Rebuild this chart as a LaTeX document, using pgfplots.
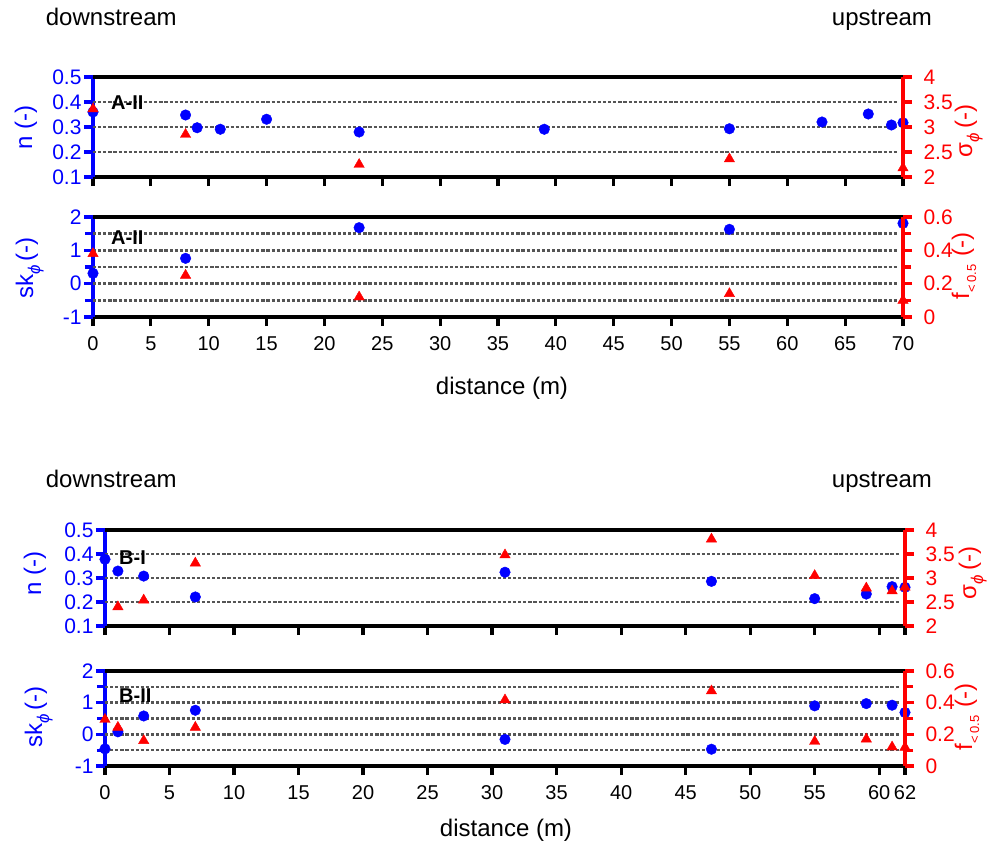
\documentclass[border=0pt]{standalone}
\usepackage{pgfplots}
\pgfplotsset{compat=1.18}
\usepackage{fontspec}
\setmainfont{Liberation Sans}

\definecolor{nblue}{RGB}{0,0,255}
\definecolor{sred}{RGB}{255,0,0}
\definecolor{gridgray}{RGB}{85,85,85}

\newcommand{\phis}{\textit{ϕ}}
\newcommand{\fs}[1]{\fontsize{#1}{#1}\selectfont}

\pgfplotsset{
  gridline/.style={forget plot, mark=none, color=gridgray, line width=2.4pt, dash pattern=on 3.2pt off 1.9pt},
  panel/.style={
    scale only axis, clip=false,
    tick align=outside,
    major tick length=9pt, minor tick length=8pt,
    /pgf/number format/assume math mode=true,
    xticklabel style={font=\fs{20}},
    yticklabel style={font=\fs{21}},
    every tick/.append style={line width=3.2pt},
    every major tick/.append style={line width=3.2pt},
    every minor tick/.append style={line width=3.2pt},
    every outer x axis line/.append style={line width=3.2pt},
    every outer y axis line/.append style={line width=3.2pt},
    axis line style={line width=3.2pt},
  },
  leftpanel/.style={panel,
    axis x line*=bottom, axis y line*=left,
    x axis line style={black, line width=3.2pt},
    y axis line style={nblue, line width=3.2pt},
    xtick style={black, line width=3.2pt},
    ytick style={nblue, line width=3.2pt},
    yticklabel style={nblue, xshift=1pt},
    xticklabel style={yshift=-7pt},
  },
  rightpanel/.style={panel,
    axis x line*=top, axis y line*=right,
    x axis line style={black, line width=3.2pt},
    y axis line style={sred, line width=3.2pt},
    xtick=\empty,
    ytick style={sred, line width=3.2pt},
    yticklabel style={sred, xshift=8pt},
  },
  circ/.style={only marks, mark=*, mark size=5.3pt, color=nblue, mark options={draw=nblue, fill=nblue, line width=0.4pt}},
  tri/.style={only marks, mark=triangle*, mark size=6pt, color=sred, mark options={draw=sred, fill=sred, line width=0.4pt}},
}

\begin{document}
\begin{tikzpicture}
\path[use as bounding box] (0,0) rectangle (988pt,-848pt);

% ---------------- site A: porosity and sorting ----------------
\begin{axis}[leftpanel, at={(93pt,-177pt)}, anchor=south west,
  width=810pt, height=100pt, xmin=0, xmax=70,
  xtick={0,5,...,70}, xticklabels={},
  ymin=0.1, ymax=0.5, ytick={0.1,0.2,0.3,0.4,0.5},
  yticklabels={0.1,0.2,0.3,0.4,0.5}]
\addplot[gridline] coordinates {(0,0.2) (69.5,0.2)};
\addplot[gridline] coordinates {(0,0.3) (69.5,0.3)};
\addplot[gridline] coordinates {(0,0.4) (69.5,0.4)};
\addplot[circ] coordinates {(0,0.36) (8,0.348) (9,0.297) (11,0.291) (15,0.331) (23,0.28)
  (39,0.291) (55,0.293) (63,0.32) (67,0.352) (69,0.308) (70,0.317)};
\end{axis}
\begin{axis}[rightpanel, at={(93pt,-177pt)}, anchor=south west,
  width=810pt, height=100pt, xmin=0, xmax=70,
  ymin=2, ymax=4, ytick={2,2.5,3,3.5,4}, yticklabels={2,2.5,3,3.5,4}]
\addplot[tri] coordinates {(0,3.36) (8,2.85) (23,2.25) (55,2.36) (70,2.18)};
\end{axis}

% ---------------- site A: skewness and fine fraction ----------------
\begin{axis}[leftpanel, at={(93pt,-317pt)}, anchor=south west,
  width=810pt, height=100pt, xmin=0, xmax=70,
  xtick={0,5,...,70},
  ymin=-1, ymax=2, ytick={-1,0,1,2}, yticklabels={-1,0,1,2},
  minor ytick={-0.5,0.5,1.5}]
\addplot[gridline] coordinates {(0,-0.5) (69.5,-0.5)};
\addplot[gridline] coordinates {(0,0) (69.5,0)};
\addplot[gridline] coordinates {(0,0.5) (69.5,0.5)};
\addplot[gridline] coordinates {(0,1) (69.5,1)};
\addplot[gridline] coordinates {(0,1.5) (69.5,1.5)};
\addplot[circ] coordinates {(0,0.31) (8,0.76) (23,1.68) (55,1.63) (70,1.81)};
\end{axis}
\begin{axis}[rightpanel, at={(93pt,-317pt)}, anchor=south west,
  width=810pt, height=100pt, xmin=0, xmax=70,
  ymin=0, ymax=0.6, ytick={0,0.2,0.4,0.6}, yticklabels={0,0.2,0.4,0.6},
  minor ytick={0.1,0.3,0.5}]
\addplot[tri] coordinates {(0,0.38) (8,0.25) (23,0.12) (55,0.14) (70,0.10)};
\end{axis}

% ---------------- site B: porosity and sorting ----------------
\begin{axis}[leftpanel, at={(105pt,-626pt)}, anchor=south west,
  width=800pt, height=96pt, xmin=0, xmax=62,
  xtick={0,5,...,60,62}, xticklabels={},
  ymin=0.1, ymax=0.5, ytick={0.1,0.2,0.3,0.4,0.5},
  yticklabels={0.1,0.2,0.3,0.4,0.5}]
\addplot[gridline] coordinates {(0,0.2) (61.6,0.2)};
\addplot[gridline] coordinates {(0,0.3) (61.6,0.3)};
\addplot[gridline] coordinates {(0,0.4) (61.6,0.4)};
\addplot[circ] coordinates {(0,0.378) (1,0.329) (3,0.308) (7,0.221) (31,0.324) (47,0.286)
  (55,0.214) (59,0.233) (61,0.264) (62,0.261)};
\end{axis}
\begin{axis}[rightpanel, at={(105pt,-626pt)}, anchor=south west,
  width=800pt, height=96pt, xmin=0, xmax=62,
  ymin=2, ymax=4, ytick={2,2.5,3,3.5,4}, yticklabels={2,2.5,3,3.5,4}]
\addplot[tri] coordinates {(1,2.40) (3,2.54) (7,3.31) (31,3.48) (47,3.81) (55,3.05)
  (59,2.79) (61,2.73) (62,2.81)};
\end{axis}

% ---------------- site B: skewness and fine fraction ----------------
\begin{axis}[leftpanel, at={(105pt,-766pt)}, anchor=south west,
  width=800pt, height=95pt, xmin=0, xmax=62,
  xtick={0,5,...,60,62},
  ymin=-1, ymax=2, ytick={-1,0,1,2}, yticklabels={-1,0,1,2},
  minor ytick={-0.5,0.5,1.5}]
\addplot[gridline] coordinates {(0,-0.5) (61.6,-0.5)};
\addplot[gridline] coordinates {(0,0) (61.6,0)};
\addplot[gridline] coordinates {(0,0.5) (61.6,0.5)};
\addplot[gridline] coordinates {(0,1) (61.6,1)};
\addplot[gridline] coordinates {(0,1.5) (61.6,1.5)};
\addplot[circ] coordinates {(0,-0.46) (1,0.08) (3,0.58) (7,0.76) (31,-0.16) (47,-0.47)
  (55,0.90) (59,0.97) (61,0.92) (62,0.69)};
\end{axis}
\begin{axis}[rightpanel, at={(105pt,-766pt)}, anchor=south west,
  width=800pt, height=95pt, xmin=0, xmax=62,
  ymin=0, ymax=0.6, ytick={0,0.2,0.4,0.6}, yticklabels={0,0.2,0.4,0.6},
  minor ytick={0.1,0.3,0.5}]
\addplot[tri] coordinates {(0,0.294) (1,0.244) (3,0.16) (7,0.244) (31,0.417) (47,0.474)
  (55,0.155) (59,0.17) (61,0.12) (62,0.118)};
\end{axis}

% ---------------- panel tags ----------------
\begin{scope}[every node/.style={inner sep=0pt, font=\fs{20}\bfseries}]
\node[anchor=base west] at (111pt,-109.5pt) {A-II};
\node[anchor=base west] at (111pt,-244pt) {A-II};
\node[anchor=base west] at (119pt,-564.5pt) {B-I};
\node[anchor=base west] at (119pt,-702.5pt) {B-II};
\end{scope}

% ---------------- flow direction and distance labels ----------------
\begin{scope}[every node/.style={inner sep=0pt, font=\fs{24}}]
\node[anchor=base west] at (45.7pt,-26pt) {downstream};
\node[anchor=base west] at (831.7pt,-26pt) {upstream};
\node[anchor=base west] at (45.7pt,-487pt) {downstream};
\node[anchor=base west] at (831.7pt,-487pt) {upstream};
\node[anchor=base] at (502pt,-394.5pt) {distance (m)};
\node[anchor=base] at (506pt,-836pt) {distance (m)};
\end{scope}

% ---------------- y-axis titles ----------------
\begin{scope}[every node/.style={inner sep=0pt, rotate=90, anchor=base, font=\fs{24}}]
\node[nblue] at (32pt,-127.5pt) {n (-)};
\node[nblue] at (33pt,-268pt) {sk\raisebox{-0.3em}{\fs{17}\phis}\,(-)};
\node[sred] at (972pt,-131pt) {σ\raisebox{-0.3em}{\fs{17}\phis}\,(-)};
\node[sred] at (969pt,-266pt) {f\raisebox{-0.3em}{\fs{13}<\,0.5}\,\,(-)};
\node[nblue] at (41pt,-573pt) {n (-)};
\node[nblue] at (42pt,-717pt) {sk\raisebox{-0.3em}{\fs{17}\phis}\,(-)};
\node[sred] at (976pt,-573pt) {σ\raisebox{-0.3em}{\fs{17}\phis}\,(-)};
\node[sred] at (972pt,-717pt) {f\raisebox{-0.3em}{\fs{13}<\,0.5}\,\,(-)};
\end{scope}
\end{tikzpicture}
\end{document}
